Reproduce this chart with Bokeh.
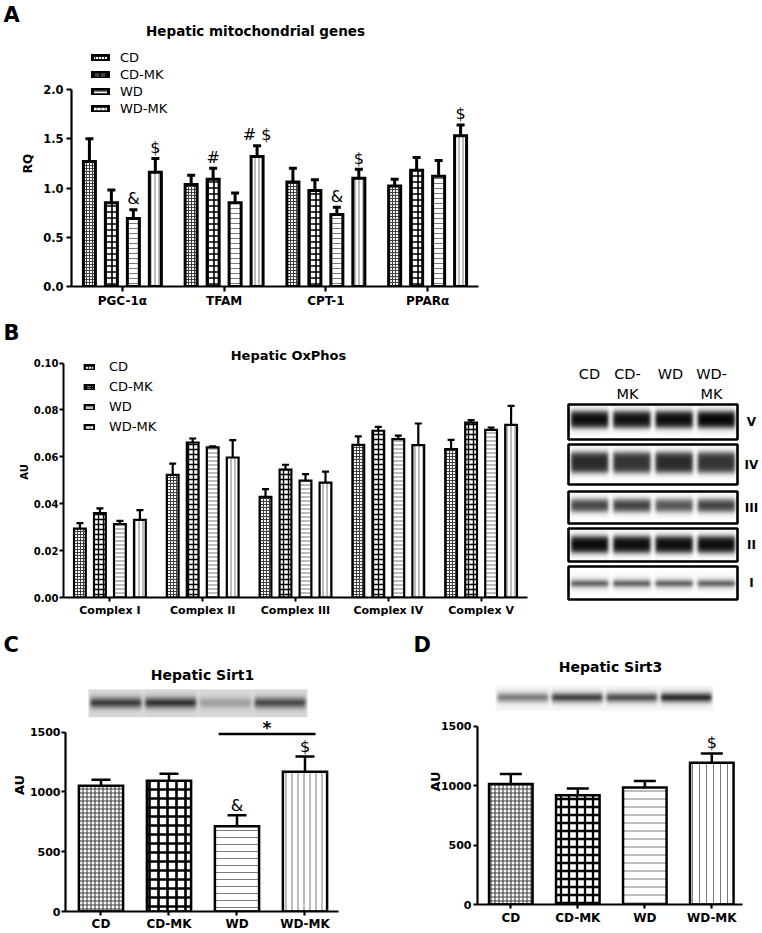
import numpy as np
from bokeh.plotting import figure
from bokeh.models import (ColumnDataSource, Range1d, FixedTicker, Whisker, TeeHead, Label,
                          Legend, LegendItem, NumeralTickFormatter)
from bokeh.layouts import column, row
from bokeh.embed import file_html
from bokeh.resources import INLINE
from bokeh.core.properties import value

FONT = "DejaVu Sans"

# ------------------------------------------------------------------ data
groups = ["CD", "CD-MK", "WD", "WD-MK"]

# Panel A: hepatic mitochondrial genes (RQ)
genes = ["PGC-1α", "TFAM", "CPT-1", "PPARα"]
A_CD = [1.27, 1.035, 1.06, 1.02]
A_CD_sem = [0.23, 0.095, 0.14, 0.07]
A_CDMK = [0.85, 1.09, 0.975, 1.18]
A_CDMK_sem = [0.13, 0.11, 0.11, 0.13]
A_WD = [0.69, 0.85, 0.73, 1.12]
A_WD_sem = [0.09, 0.10, 0.075, 0.16]
A_WDMK = [1.16, 1.32, 1.10, 1.53]
A_WDMK_sem = [0.14, 0.11, 0.09, 0.11]
A_CD_sig = ["", "", "", ""]
A_CDMK_sig = ["", "#", "", ""]
A_WD_sig = ["&", "", "&", ""]
A_WDMK_sig = ["$", "# $", "$", "$"]
A_yticks = [0.0, 0.5, 1.0, 1.5, 2.0]

# Panel B: hepatic OxPhos (AU)
complexes = ["Complex I", "Complex II", "Complex III", "Complex IV", "Complex V"]
B_CD = [0.0294, 0.0523, 0.0429, 0.0651, 0.0633]
B_CD_sem = [0.0023, 0.0048, 0.0033, 0.0036, 0.0039]
B_CDMK = [0.0360, 0.0661, 0.0545, 0.0711, 0.0746]
B_CDMK_sem = [0.0020, 0.0017, 0.0021, 0.0017, 0.0010]
B_WD = [0.0313, 0.0640, 0.0498, 0.0675, 0.0715]
B_WD_sem = [0.0014, 0.0005, 0.0028, 0.0015, 0.0010]
B_WDMK = [0.0331, 0.0597, 0.0490, 0.0650, 0.0736]
B_WDMK_sem = [0.0042, 0.0074, 0.0047, 0.0092, 0.0081]
B_none = ["", "", "", "", ""]
B_yticks = [0.0, 0.02, 0.04, 0.06, 0.08, 0.10]

# OxPhos blot (band darkness per lane, rows V..I)
blot_rows = ["V", "IV", "III", "II", "I"]
blot_lane_top = ["CD", "CD-", "WD", "WD-"]
blot_lane_bottom = ["", "MK", "", "MK"]
band_V = [0.96, 0.94, 0.96, 0.99]
band_IV = [0.84, 0.80, 0.84, 0.80]
band_III = [0.74, 0.76, 0.68, 0.76]
band_II = [0.97, 0.96, 0.96, 0.96]
band_I = [0.80, 0.80, 0.80, 0.80]

# Panel C: hepatic Sirt1 (AU)
C_mean = [1052, 1094, 713, 1169]
C_sem = [50, 58, 92, 128]
C_sig = ["", "", "&", "$"]
C_pair = [2, 3]
C_pair_level = 1486
C_pair_mark = "*"
C_band = [0.85, 0.90, 0.32, 0.78]

# Panel D: hepatic Sirt3 (AU)
D_mean = [1013, 920, 985, 1192]
D_sem = [84, 56, 55, 79]
D_sig = ["", "", "", "$"]
D_band = [0.58, 0.85, 0.80, 0.97]
CD_yticks = [0, 500, 1000, 1500]


# ------------------------------------------------------------------ helpers
def pattern_styles(fine, coarse, coarse_w, hsp, vsp):
    return [
        dict(hatch_pattern="cross", hatch_scale=fine, hatch_weight=1.1, hatch_color="#404040"),
        dict(hatch_pattern="cross", hatch_scale=coarse, hatch_weight=coarse_w, hatch_color="black"),
        dict(hatch_pattern="horizontal_line", hatch_scale=hsp, hatch_weight=1.0, hatch_color="#7a7a7a"),
        dict(hatch_pattern="vertical_line", hatch_scale=vsp, hatch_weight=1.0, hatch_color="#7a7a7a"),
    ]


def make_fig(w, h, xr, yr, left, right, bottom, top=0):
    p = figure(width=w, height=h, x_range=Range1d(*xr), y_range=Range1d(*yr),
               min_border_left=left, min_border_right=right, min_border_bottom=bottom,
               min_border_top=top, toolbar_location=None, output_backend="svg")
    p.xgrid.visible = False
    p.ygrid.visible = False
    p.outline_line_color = None
    p.background_fill_color = "white"
    p.border_fill_color = "white"
    return p


def plain_fig(w, h):
    p = figure(width=w, height=h, x_range=Range1d(0, w), y_range=Range1d(0, h),
               toolbar_location=None, output_backend="svg", min_border=0,
               x_axis_type=None, y_axis_type=None)
    p.outline_line_color = None
    p.xgrid.visible = False
    p.ygrid.visible = False
    return p


def style_axes(p, xticks, xlabels, yticks, yfmt, ybounds, xfs, yfs, ylab, ylfs, ylstand,
               lw=2.0, tick_out=5, ystand=3, xstand=2):
    xa, ya = p.xaxis[0], p.yaxis[0]
    xa.ticker = FixedTicker(ticks=xticks)
    xa.major_label_overrides = {t: l for t, l in zip(xticks, xlabels)}
    ya.ticker = FixedTicker(ticks=yticks)
    ya.formatter = NumeralTickFormatter(format=yfmt)
    ya.bounds = ybounds
    for ax in (xa, ya):
        ax.axis_line_width = lw
        ax.axis_line_color = "black"
        ax.major_tick_line_width = lw
        ax.major_tick_line_color = "black"
        ax.major_tick_out = tick_out
        ax.major_tick_in = 0
        ax.minor_tick_line_color = None
        ax.major_label_text_font = FONT
        ax.major_label_text_font_style = "bold"
        ax.major_label_text_color = "black"
    xa.major_label_text_font_size = xfs
    ya.major_label_text_font_size = yfs
    xa.major_label_standoff = xstand
    ya.major_label_standoff = ystand
    ya.axis_label = ylab
    ya.axis_label_text_font = FONT
    ya.axis_label_text_font_style = "bold"
    ya.axis_label_text_font_size = ylfs
    ya.axis_label_text_color = "black"
    ya.axis_label_standoff = ylstand


def whiskers(p, src, lw, cap):
    p.add_layout(Whisker(source=src, base="x", lower="top", upper="err", dimension="height",
                         line_width=lw, line_color="black", lower_head=None,
                         upper_head=TeeHead(size=cap, line_width=lw, line_color="black")))


def sig_text(p, xs, tops, sems, sig, size, yoff):
    keep = [i for i, s in enumerate(sig) if s]
    if not keep:
        return
    src = ColumnDataSource(dict(x=[xs[i] for i in keep],
                                y=[tops[i] + sems[i] for i in keep],
                                t=[sig[i] for i in keep]))
    p.text(x="x", y="y", text="t", source=src, text_align="center",
           text_baseline="middle", text_font=value(FONT), text_font_size=size,
           text_color="black", y_offset=yoff)


def grouped(p, means, sems, sigs, pitch, width, lw, cap, styles, sig_size, sig_off):
    rs = []
    n = len(means)
    for j, (m, s, g) in enumerate(zip(means, sems, sigs)):
        xs = [i + (j - (n - 1) / 2) * pitch for i in range(len(m))]
        src = ColumnDataSource(dict(x=xs, top=m, err=[a + b for a, b in zip(m, s)]))
        whiskers(p, src, lw, cap)
        r = p.vbar(x="x", top="top", bottom=0, width=width, source=src,
                   fill_color="white", line_color="black", line_width=lw,
                   line_join="miter", **styles[j])
        sig_text(p, xs, m, s, g, sig_size, sig_off)
        rs.append(r)
    return rs


def single(p, means, sems, sig, width, lw, cap, styles, sig_size, sig_off):
    xs = list(range(len(means)))
    src = ColumnDataSource(dict(x=xs, top=means, err=[a + b for a, b in zip(means, sems)],
                                hp=[s["hatch_pattern"] for s in styles],
                                hs=[s["hatch_scale"] for s in styles],
                                hw=[s["hatch_weight"] for s in styles],
                                hc=[s["hatch_color"] for s in styles]))
    whiskers(p, src, lw, cap)
    p.vbar(x="x", top="top", bottom=0, width=width, source=src, fill_color="white",
           line_color="black", line_width=lw, line_join="miter",
           hatch_pattern="hp", hatch_scale="hs", hatch_color="hc", hatch_weight="hw")
    sig_text(p, xs, means, sems, sig, sig_size, sig_off)


def label(p, text, fx, fy_mid, fl, fb, size, bold=True, align="left"):
    # fy_mid: vertical centre of the text, in pixels from the figure top
    p.add_layout(Label(x=fx - fl, y=fb - fy_mid, x_units="screen", y_units="screen", text=text,
                       text_font=FONT, text_font_size=size,
                       text_font_style="bold" if bold else "normal",
                       text_align=align, text_baseline="middle", text_color="black"))


def band_rgba(W, H, yc, half, dark, bg=1.0, blur=1.6, edge=2.5):
    W, H = int(round(W)), int(round(H))
    ys = np.arange(H) + 0.5
    xs = np.arange(W) + 0.5
    lw = W / len(dark)
    py = 1.0 / (1.0 + np.exp((np.abs(ys - yc) - half) / blur))
    d = np.zeros((H, W))
    for i, k in enumerate(dark):
        cx = (i + 0.5) * lw
        px = 1.0 / (1.0 + np.exp((np.abs(xs - cx) - (lw / 2 - edge)) / 1.0))
        d += k * np.outer(py, px)
    g = (255 * bg * (1 - np.clip(d, 0, 1))).astype(np.uint8)
    g = np.flipud(g)
    img = np.empty((H, W), dtype=np.uint32)
    v = img.view(dtype=np.uint8).reshape((H, W, 4))
    v[..., 0] = g
    v[..., 1] = g
    v[..., 2] = g
    v[..., 3] = 255
    return img


def solo(f):
    return column(f)


LETTER = "21px"

# ------------------------------------------------------------------ Panel A
sA = plain_fig(762, 40)
label(sA, "A", 3, 14, 0, 40, LETTER)
label(sA, "Hepatic mitochondrial genes", 255, 30, 0, 40, "13.5px", align="center")

A_FL, A_FB, A_KX, A_KY = 71, 246, 101.7, 98.5
A_FW = round(4 * A_KX)
pA = make_fig(762, 270, (-0.5, 3.5), (0, A_FB / A_KY), A_FL, 762 - A_FL - A_FW, 270 - A_FB)
style_axes(pA, [0, 1, 2, 3], genes, A_yticks, "0.0", (0, 2.0), "12px", "11.5px", "RQ", "12px", 5,
           lw=2.2, tick_out=5, ystand=3, xstand=2)
rA = grouped(pA, [A_CD, A_CDMK, A_WD, A_WDMK], [A_CD_sem, A_CDMK_sem, A_WD_sem, A_WDMK_sem],
             [A_CD_sig, A_CDMK_sig, A_WD_sig, A_WDMK_sig], 0.216, 0.118, 3, 8,
             pattern_styles(3, 6, 1.6, 5, 4), "16px", -11)
legA = Legend(items=[LegendItem(label=g, renderers=[r]) for g, r in zip(groups, rA)],
              location=(19, 170), orientation="vertical", border_line_color=None,
              background_fill_alpha=0, padding=0, margin=0, spacing=2, label_height=14,
              glyph_width=20, glyph_height=7, label_standoff=10,
              label_text_font=FONT, label_text_font_size="13px", label_text_color="black")
pA.add_layout(legA)

# ------------------------------------------------------------------ Panel B
sB = plain_fig(540, 36)
label(sB, "B", 3, 22, 0, 36, LETTER)

B_FL, B_FB, B_KX, B_KY = 63, 251, 92.8, 2345.0
B_FW = round(5 * B_KX)
pB = make_fig(540, 276, (-0.5, 4.5), (0, B_FB / B_KY), B_FL, 540 - B_FL - B_FW, 276 - B_FB)
style_axes(pB, [0, 1, 2, 3, 4], complexes, B_yticks, "0.00", (0, 0.10), "11px", "10px", "AU", "10px", 1,
           lw=2.0, tick_out=4, ystand=1, xstand=2)
rB = grouped(pB, [B_CD, B_CDMK, B_WD, B_WDMK], [B_CD_sem, B_CDMK_sem, B_WD_sem, B_WDMK_sem],
             [B_none] * 4, 0.2155, 0.127, 2.2, 7,
             pattern_styles(3, 5, 1.4, 4, 4), "14px", -10)
legB = Legend(items=[LegendItem(label=g, renderers=[r]) for g, r in zip(groups, rB)],
              location=(20, 163), orientation="vertical", border_line_color=None,
              background_fill_alpha=0, padding=0, margin=0, spacing=5, label_height=14,
              glyph_width=12, glyph_height=6, label_standoff=14,
              label_text_font=FONT, label_text_font_size="13px", label_text_color="black")
pB.add_layout(legB)
label(pB, "Hepatic OxPhos", 288, 9, B_FL, B_FB, "13px", align="center")

# ------------------------------------------------------------------ OxPhos blot
BW, BH = 222, 312
pBl = plain_fig(BW, BH)
box_l, box_r = 28, 197
box_top = [94, 134, 181, 218, 256]
box_bot = [129, 174, 213, 251, 289]
band_pos = [(15, 8.0), (18, 10.0), (14, 6.0), (16, 8.0), (17, 2.4)]
bands = [band_V, band_IV, band_III, band_II, band_I]
for t, b, (yc, hf), dk in zip(box_top, box_bot, band_pos, bands):
    img = band_rgba(box_r - box_l, b - t, yc, hf, dk, blur=1.8)
    pBl.image_rgba(image=[img], x=box_l, y=BH - b, dw=box_r - box_l, dh=b - t)
pBl.quad(left=[box_l] * 5, right=[box_r] * 5, top=[BH - t for t in box_top],
         bottom=[BH - b for b in box_bot], fill_color=None, line_color="black", line_width=2.6)
lane_x = [49, 87, 130, 171]
pBl.text(x=lane_x, y=[BH - 63] * 4, text=blot_lane_top, text_align="center",
         text_baseline="middle", text_font=value(FONT), text_font_size="14.5px")
pBl.text(x=lane_x, y=[BH - 83] * 4, text=blot_lane_bottom, text_align="center",
         text_baseline="middle", text_font=value(FONT), text_font_size="14.5px")
pBl.text(x=[211] * 5, y=[BH - (t + b) / 2 for t, b in zip(box_top, box_bot)], text=blot_rows,
         text_align="center", text_baseline="middle", text_font=value(FONT),
         text_font_size="12px", text_font_style="bold")

# ------------------------------------------------------------------ Panel C
sC = plain_fig(380, 36)
label(sC, "C", 3, 22, 0, 36, LETTER)

C_FL, C_FB, C_KX, C_KY, C_X0 = 65, 254, 68.0, 0.12, -0.522
C_FW = 273
pC = make_fig(380, 275, (C_X0, C_X0 + C_FW / C_KX), (0, C_FB / C_KY), C_FL, 380 - C_FL - C_FW, 275 - C_FB)
style_axes(pC, [0, 1, 2, 3], groups, CD_yticks, "0", (0, 1500), "12px", "11px", "AU", "13px", 0,
           lw=2.2, tick_out=4, ystand=1, xstand=1)
imgC = band_rgba(219, 28, 14, 3.8, C_band, bg=0.86, blur=2.0, edge=2.0)
pC.image_rgba(image=[imgC], x=C_X0 + (88 - C_FL) / C_KX, y=(C_FB - 59) / C_KY,
              dw=219 / C_KX, dh=28 / C_KY)
single(pC, C_mean, C_sem, C_sig, 0.65, 2.5, 19, pattern_styles(4, 9, 2.6, 7, 6), "16px", -10)
pC.segment(x0=[C_pair[0] - 0.27], x1=[C_pair[1] + 0.155], y0=[C_pair_level], y1=[C_pair_level],
           line_width=2.5, line_color="black")
pC.text(x=[(C_pair[0] + C_pair[1]) / 2 - 0.06], y=[C_pair_level], text=[C_pair_mark],
        text_align="center", text_baseline="middle", text_font=value(FONT),
        text_font_size="17px", text_font_style="bold", y_offset=-6)
label(pC, "Hepatic Sirt1", 202, 17, C_FL, C_FB, "14px", align="center")

# ------------------------------------------------------------------ Panel D
sD = plain_fig(382, 36)
label(sD, "D", 33, 22, 0, 36, LETTER)

D_FL, D_FB, D_KX, D_KY, D_X0 = 97, 246, 67.0, 0.11887, -0.497
D_FW = 265
pD = make_fig(382, 275, (D_X0, D_X0 + D_FW / D_KX), (0, D_FB / D_KY), D_FL, 382 - D_FL - D_FW, 275 - D_FB)
style_axes(pD, [0, 1, 2, 3], groups, CD_yticks, "0", (0, 1500), "12px", "11px", "AU", "13px", -5,
           lw=2.2, tick_out=4, ystand=2, xstand=2)
imgD = band_rgba(218, 25, 12, 3.5, D_band, bg=0.97, blur=1.8, edge=2.0)
pD.image_rgba(image=[imgD], x=D_X0 + (115 - D_FL) / D_KX, y=(D_FB - 52) / D_KY,
              dw=218 / D_KX, dh=25 / D_KY)
single(pD, D_mean, D_sem, D_sig, 0.65, 2.5, 22, pattern_styles(4, 8, 2.3, 8, 7), "16px", -11)
label(pD, "Hepatic Sirt3", 230, 8, D_FL, D_FB, "14px", align="center")

layout = column(
    solo(sA), solo(pA),
    row(column(solo(sB), solo(pB)), solo(pBl)),
    row(column(solo(sC), solo(pC)), column(solo(sD), solo(pD))),
)
open("out.html", "w").write(file_html(layout, INLINE))
